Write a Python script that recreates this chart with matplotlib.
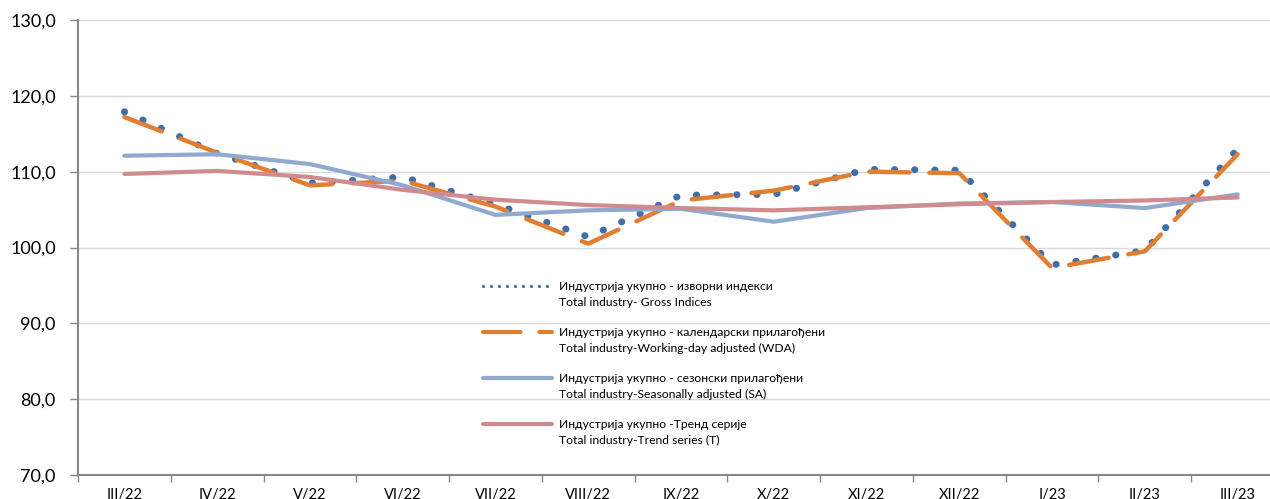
import numpy as np
import matplotlib
matplotlib.use("Agg")
from matplotlib import pyplot as plt
from matplotlib.lines import Line2D

plt.rcParams['font.family'] = ['Lato', 'DejaVu Sans']

months = ["III/22", "IV/22", "V/22", "VI/22", "VII/22", "VIII/22", "IX/22",
          "X/22", "XI/22", "XII/22", "I/23", "II/23", "III/23"]

gross = [117.9, 112.4, 108.5, 109.3, 105.7, 101.4, 106.9,
         107.0, 110.3, 110.2, 97.7, 99.6, 113.0]
wda = [117.2, 112.5, 108.2, 108.8, 105.4, 100.5, 106.2,
       107.5, 110.0, 109.8, 97.3, 99.5, 112.3]
sa = [112.1, 112.3, 111.0, 108.2, 104.3, 104.9, 105.1,
      103.4, 105.2, 105.8, 106.0, 105.2, 107.0]
trend = [109.7, 110.1, 109.3, 107.6, 106.3, 105.6, 105.2,
         104.9, 105.3, 105.7, 106.0, 106.2, 106.6]

labels = [
    ("Индустрија укупно - изворни индекси", "Total industry- Gross Indices"),
    ("Индустрија укупно - календарски прилагођени", "Total industry-Working-day adjusted (WDA)"),
    ("Индустрија укупно - сезонски прилагођени", "Total industry-Seasonally adjusted (SA)"),
    ("Индустрија укупно -Тренд серије", "Total industry-Trend series (T)"),
]

c_gross = "#3F6FAA"
c_wda = "#E07F31"
c_sa = "#8FA9CF"
c_trend = "#D18A8E"

W, H = 1270, 499
fig = plt.figure(figsize=(W / 100, H / 100), dpi=100)
# plot area runs a little past the right edge, like the source crop
ax = fig.add_axes([78 / W, 24 / H, 1206 / W, 455 / H])

x = np.arange(len(months))
styles = [
    dict(color=c_gross, lw=5.0, linestyle=(0, (0.05, 2.85)), dash_capstyle="round"),
    dict(color=c_wda, lw=3.2, linestyle=(0, (9, 4.5)), dash_capstyle="round"),
    dict(color=c_sa, lw=3.0, solid_capstyle="round"),
    dict(color=c_trend, lw=3.0, solid_capstyle="round"),
]
for series, st in zip([gross, wda, sa, trend], styles):
    ax.plot(x, series, **st)

ax.set_ylim(70, 130)
ax.set_xlim(-0.5, len(months) - 0.5)
ax.set_yticks(np.arange(70, 131, 10))
ax.set_yticklabels([f"{v:.1f}".replace(".", ",") for v in range(70, 131, 10)], fontsize=13)
ax.yaxis.grid(True, color="#D9D9D9", lw=1)
ax.set_axisbelow(True)

ax.set_xticks(np.arange(-0.5, len(months), 1))
ax.set_xticklabels([])
ax.set_xticks(x, minor=True)
ax.set_xticklabels(months, minor=True, fontsize=10.5)
ax.tick_params(axis="x", which="minor", length=0, pad=9)
ax.tick_params(axis="x", which="major", length=5, color="#878787", width=1)
ax.tick_params(axis="y", length=6, color="#878787", width=1, pad=10)

for s in ["top", "right"]:
    ax.spines[s].set_visible(False)
for s in ["left", "bottom"]:
    ax.spines[s].set_color("#878787")
    ax.spines[s].set_linewidth(1.5)

# legend drawn by hand so the key sits on the first text line
leg_styles = [
    dict(color=c_gross, lw=2.3, linestyle=(0, (0.05, 2.45)), dash_capstyle="round"),
    dict(color=c_wda, lw=3.0, linestyle=(0, (9, 4.5)), dash_capstyle="round"),
    dict(color=c_sa, lw=3.0, solid_capstyle="round"),
    dict(color=c_trend, lw=3.0, solid_capstyle="round"),
]
y0 = 286
for i, ((l1, l2), st) in enumerate(zip(labels, leg_styles)):
    yy = 1 - (y0 + 46 * i) / H
    fig.add_artist(Line2D([483 / W, 552 / W], [yy, yy], transform=fig.transFigure, **st))
    fig.text(559 / W, yy, l1, fontsize=8.7, va="center", ha="left", color="#000000")
    fig.text(559 / W, yy - 16 / H, l2, fontsize=8.7, va="center", ha="left", color="#000000")

fig.savefig("out.png", dpi=100)
